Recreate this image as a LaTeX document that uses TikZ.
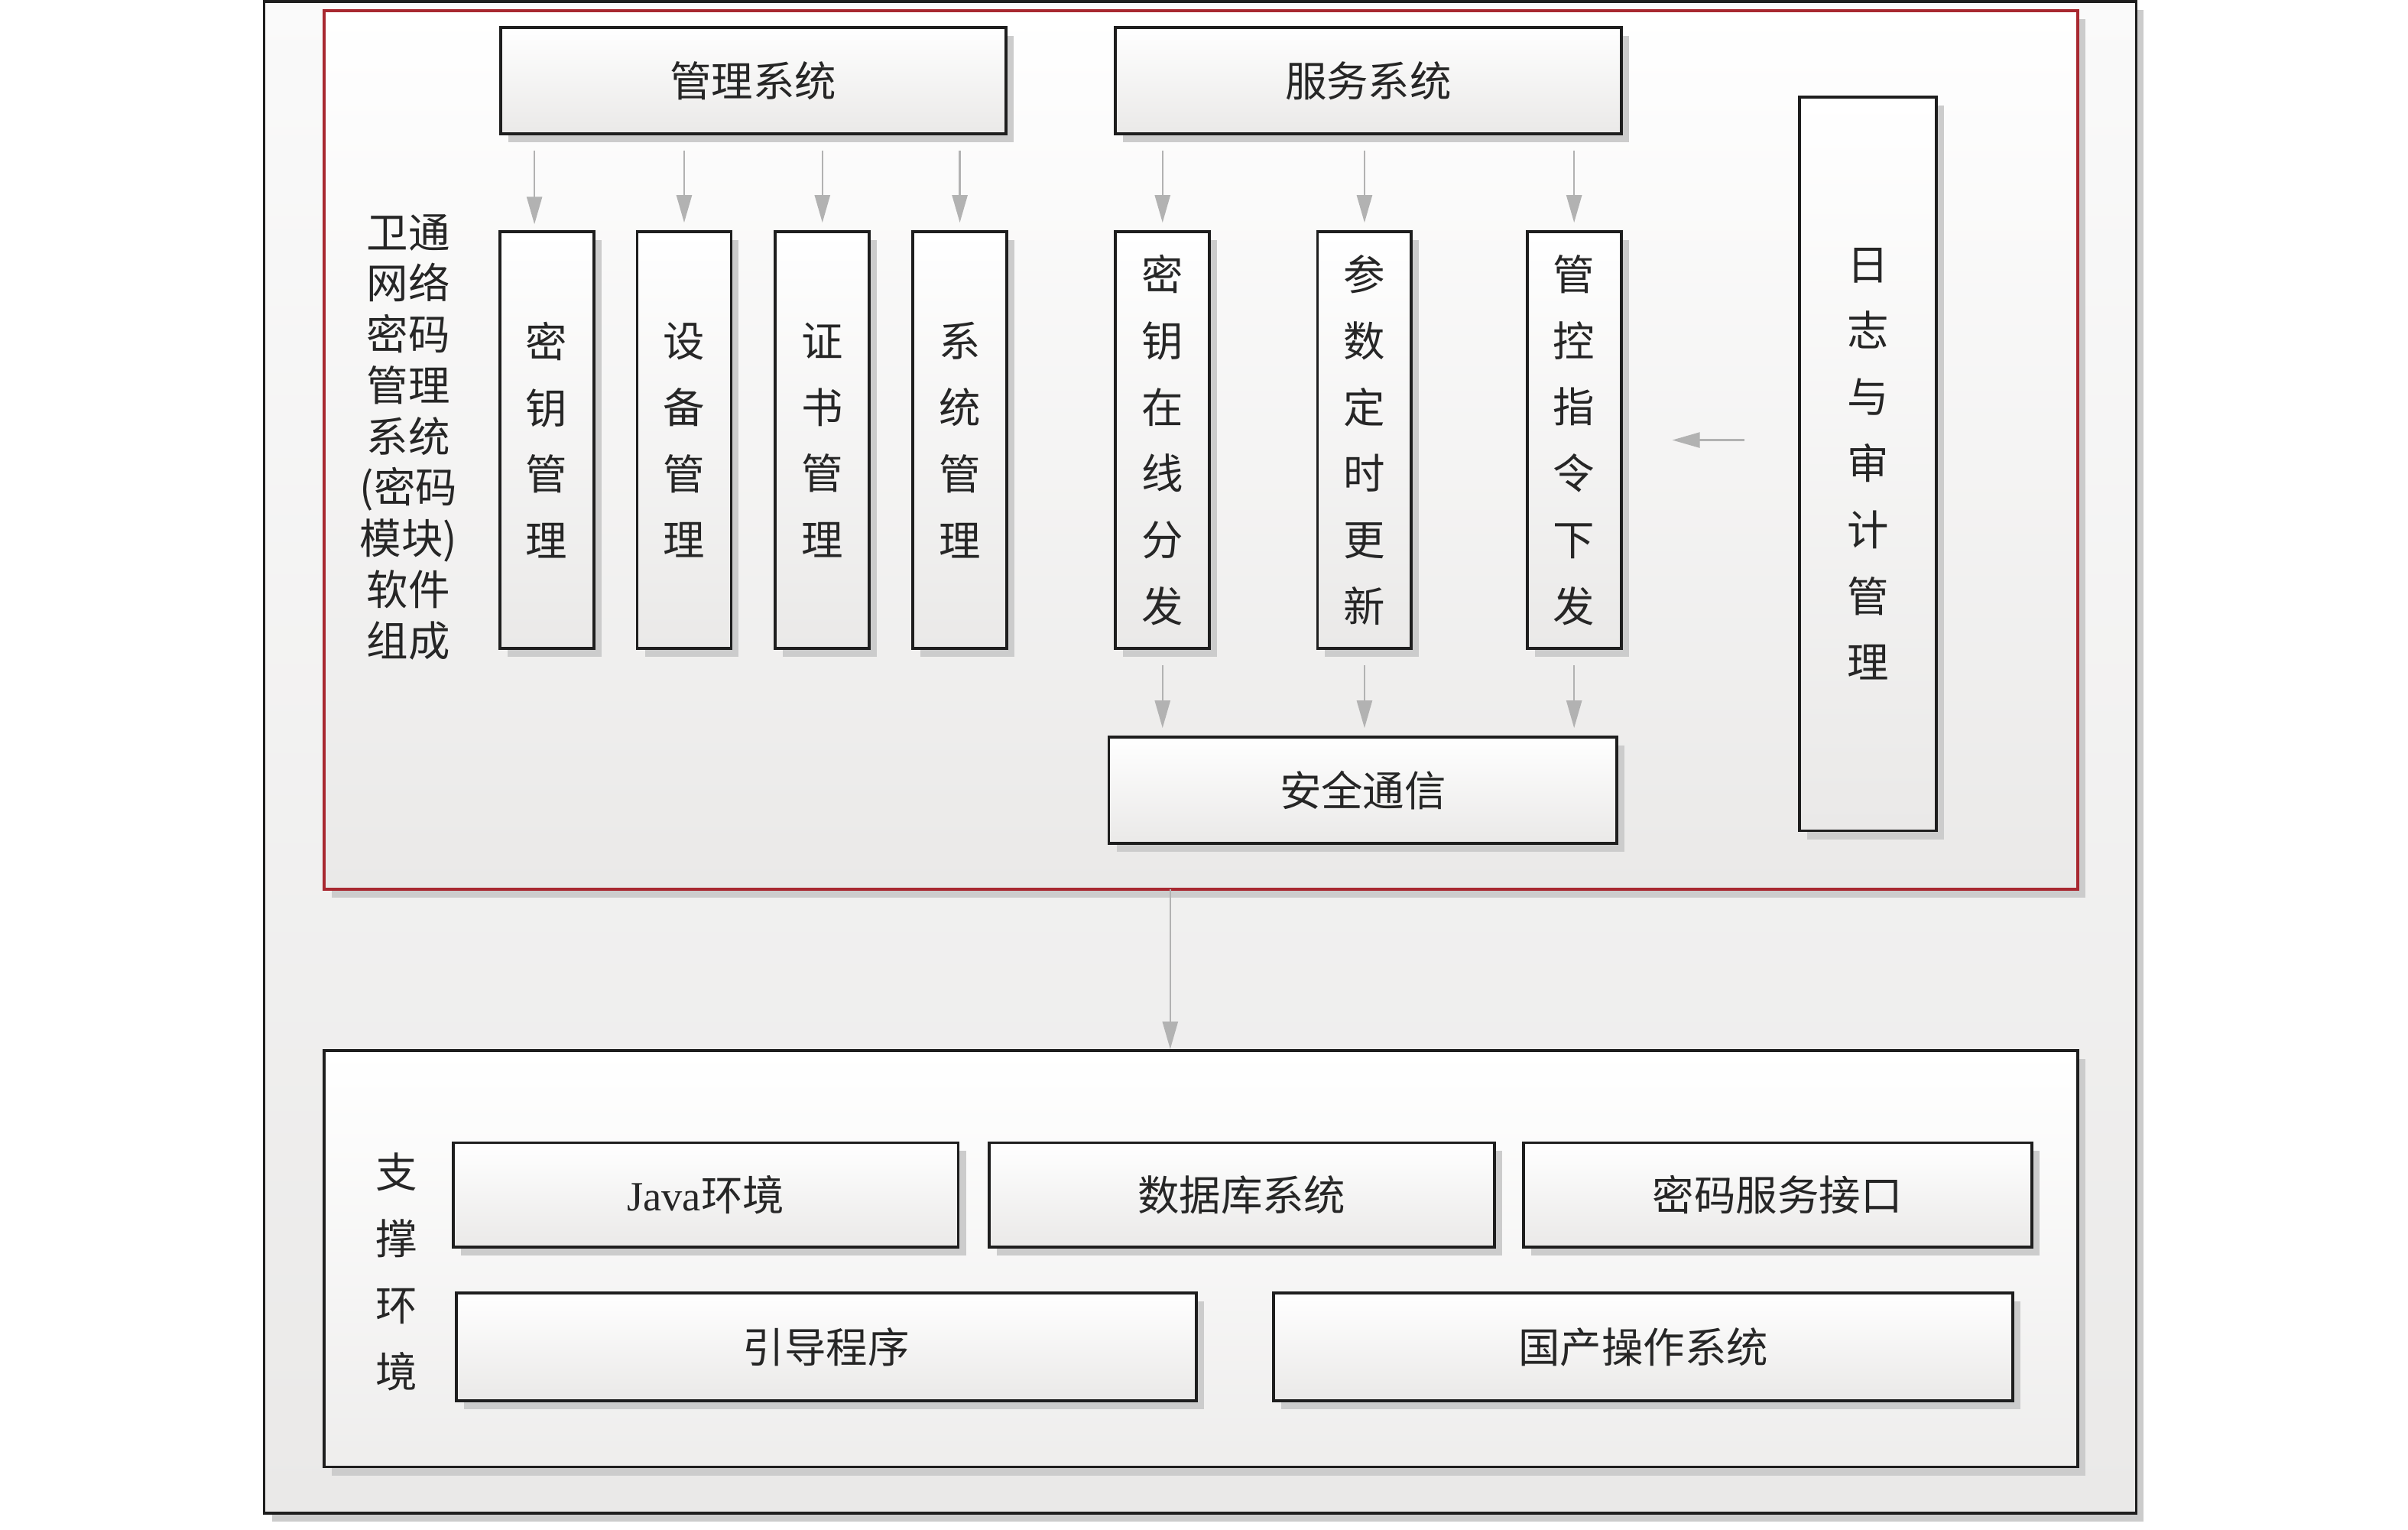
\documentclass[tikz,border=0pt]{standalone}
\usepackage{fontspec}
\setmainfont{Liberation Serif}
\newfontfamily\cjk{Noto Sans CJK SC}
\usepackage{tikz}
\usetikzlibrary{fit}
\usetikzlibrary{arrows.meta}
\usetikzlibrary{shadows}
\usepackage{xcolor}
\definecolor{ColFrame}{RGB}{168,40,48}
\definecolor{ColLine}{RGB}{30,30,30}
\definecolor{ColArrow}{RGB}{178,178,178}
\definecolor{ColBack}{RGB}{234,233,232}
\tikzstyle{Shadow}=[drop shadow={shadow xshift=0.1cm,shadow yshift=-0.11cm,fill=gray!40,opacity=1}]
\tikzstyle{FrameOuter}=[rectangle,draw=ColLine,line width=1.1pt,inner sep=0pt,top color=gray!4,
bottom color=ColBack,Shadow]
\tikzstyle{FrameRed}=[rectangle,draw=ColFrame,line width=1pt,inner sep=0pt,top color=white,
bottom color=ColBack,Shadow]
\tikzstyle{FrameEnv}=[rectangle,draw=ColLine,line width=1.1pt,inner sep=0pt,top color=white,
bottom color=ColBack!80,Shadow]
\tikzstyle{BoxHoriz}=[rectangle,draw=ColLine,line width=1.1pt,inner sep=0pt,top color=white,
bottom color=ColBack,Shadow,minimum height=1.39cm,text=black!85,font=\cjk\fontsize{15.5}{18}\selectfont]
\tikzstyle{BoxVert}=[BoxHoriz,minimum width=1.23cm,minimum height=5.45cm,align=center,
font=\cjk\fontsize{15.5}{24.7}\selectfont]
\tikzstyle{TextSide}=[align=center,inner sep=0pt,text=black!85,font=\cjk\fontsize{15.5}{19}\selectfont]
\tikzstyle{TextEnv}=[TextSide,font=\cjk\fontsize{15.5}{24.7}\selectfont]
\tikzstyle{ArrowFlow}=[ColArrow,line width=0.7pt,-{Triangle[length=0.36cm,width=0.2cm]},
shorten <=0.2cm,shorten >=0.1cm]

\begin{document}
\begin{tikzpicture}[x=0.02009cm,y=-0.02009cm]
        \useasboundingbox(0,0)rectangle(1568,996);
        % frames
        \node[FrameOuter,fit={(172,1)(1391,985)}](bg){};
        \node[FrameRed,fit={(211,7)(1353,579)}](sw){};
        \node[FrameEnv,fit={(211,684)(1353,955)}](env){};
        % software
        \node[TextSide](lbl)at(266,284.5){卫通\\网络\\密码\\管理\\系统\\(密码\\模块)\\软件\\组成};
        \node[BoxHoriz,minimum width=6.61cm](ms)at(490.5,52.5){管理系统};
        \node[BoxHoriz,minimum width=6.63cm](ss)at(891,52.5){服务系统};
        \node[BoxVert](km)at(356,286.5){密\\钥\\管\\理};
        \node[BoxVert](dm)at(445.5,286.5){设\\备\\管\\理};
        \node[BoxVert](cm)at(535.5,286.5){证\\书\\管\\理};
        \node[BoxVert](sm)at(625,286.5){系\\统\\管\\理};
        \node[BoxVert](kd)at(757,286.5){密\\钥\\在\\线\\分\\发};
        \node[BoxVert](pu)at(888.5,286.5){参\\数\\定\\时\\更\\新};
        \node[BoxVert](ct)at(1025,286.5){管\\控\\指\\令\\下\\发};
        \node[BoxVert,minimum width=1.79cm,minimum height=9.6cm](lg)at(1216.5,302){日\\志\\与\\审\\计\\管\\理};
        \node[BoxHoriz,minimum width=6.65cm](sc)at(887.5,514.5){安全通信};
        % support
        \node[TextEnv](envl)at(258,828){支\\撑\\环\\境};
        \node[BoxHoriz,minimum width=6.61cm,minimum height=1.37cm](jv)at(459.5,778){{\rmfamily Java}环境};
        \node[BoxHoriz,minimum width=6.61cm,minimum height=1.37cm](db)at(808.5,778){数据库系统};
        \node[BoxHoriz,minimum width=6.65cm,minimum height=1.37cm](ci)at(1157.5,778){密码服务接口};
        \node[BoxHoriz,minimum width=9.68cm,minimum height=1.41cm](bt)at(538,877){引导程序};
        \node[BoxHoriz,minimum width=9.68cm,minimum height=1.41cm](os)at(1070,877){国产操作系统};
        % arrows
        \coordinate(ka)at(348,151);
        \coordinate(dn)at(762,579);
        \draw[ArrowFlow](ka|-ms.south)--(ka);
        \draw[ArrowFlow](dm.north|-ms.south)--(dm.north);
        \draw[ArrowFlow](cm.north|-ms.south)--(cm.north);
        \draw[ArrowFlow](sm.north|-ms.south)--(sm.north);
        \draw[ArrowFlow](kd.north|-ss.south)--(kd.north);
        \draw[ArrowFlow](pu.north|-ss.south)--(pu.north);
        \draw[ArrowFlow](ct.north|-ss.south)--(ct.north);
        \draw[ArrowFlow](kd.south)--(kd.south|-sc.north);
        \draw[ArrowFlow](pu.south)--(pu.south|-sc.north);
        \draw[ArrowFlow](ct.south)--(ct.south|-sc.north);
        \draw[ArrowFlow,shorten <=0.71cm,shorten >=0.65cm](lg.west|-ct.east)--(ct.east);
        \draw[ArrowFlow,shorten <=0cm,shorten >=0cm](dn)--(dn|-env.north);
    \end{tikzpicture}
\end{document}
